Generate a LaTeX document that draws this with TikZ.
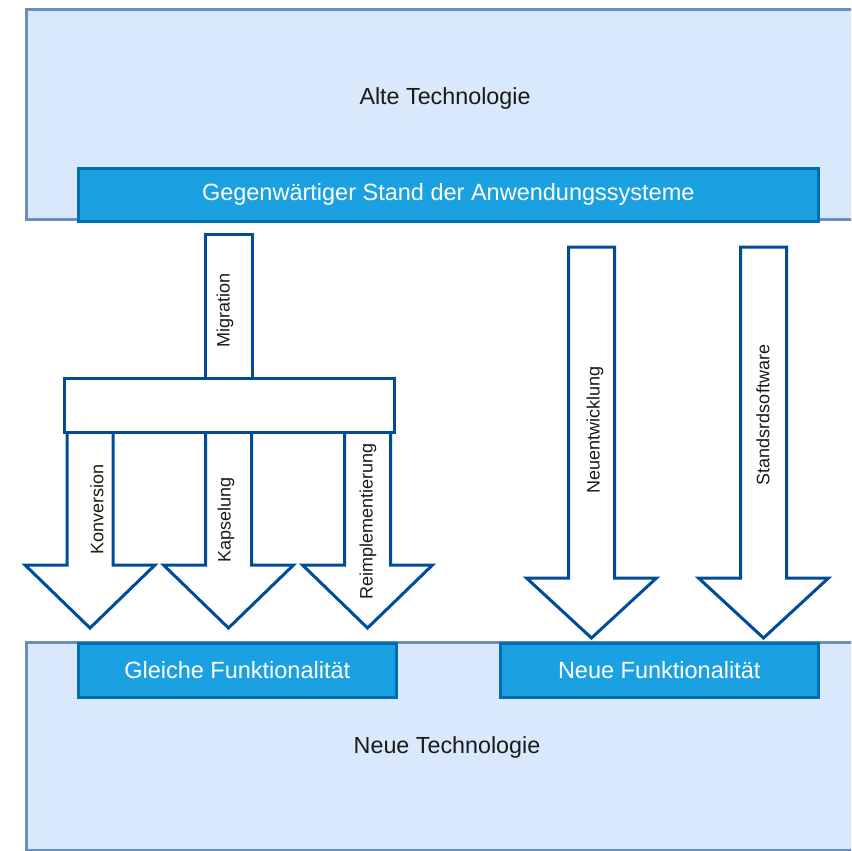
\documentclass[tikz,border=0pt]{standalone}
\usepackage{fontspec}
\setmainfont{Liberation Sans}
\definecolor{techfill}{HTML}{DAE8FC}
\definecolor{techdraw}{HTML}{6C8EBF}
\definecolor{barfill}{HTML}{1BA1E2}
\definecolor{bardraw}{HTML}{006EAF}
\definecolor{arrdraw}{HTML}{004C99}
\definecolor{txtdark}{HTML}{1A1A1A}
\tikzset{
  techbox/.style={draw=techdraw, fill=techfill, line width=3pt, anchor=north west, inner sep=0pt},
  barbox/.style={draw=bardraw, fill=barfill, line width=3.5pt, anchor=north west, inner sep=0pt},
  bartext/.style={text=white, font=\fontsize{23.5}{28}\selectfont},
  bigtext/.style={text=txtdark, font=\fontsize{23.3}{28}\selectfont},
  arrowsty/.style={draw=arrdraw, fill=white, line width=3pt, line join=miter},
  vlabel/.style={rotate=90, text=txtdark, font=\fontsize{18}{22}\selectfont, inner sep=0pt}
}
% down block arrow: #1 centre x, #2 top y, #3 head start y, #4 tip y
\newcommand{\blkarrow}[4]{%
  \draw[arrowsty] (#1-23,#2) -- (#1-23,#3) -- (#1-65,#3) -- (#1,#4) -- (#1+65,#3) -- (#1+23,#3) -- (#1+23,#2) -- cycle;}
\begin{document}
\begin{tikzpicture}[x=1pt,y=-1pt]
\useasboundingbox (0,0) rectangle (851,851);
\clip (0,0) rectangle (851,851);
% top region
\node[techbox, minimum width=860pt, minimum height=210pt] (alt) at (24.5,8) {};
\node[bigtext] (altlabel) at (445,98) {Alte Technologie};
\node[barbox, minimum width=740pt, minimum height=53pt] (stand) at (76.5,166.5) {};
\node[bartext] at (stand.center) {Gegenwärtiger Stand der Anwendungssysteme};
% bottom region
\node[techbox, minimum width=860pt, minimum height=208pt] (neu) at (24.5,641) {};
\node[bigtext] (neulabel) at (447,747) {Neue Technologie};
\node[barbox, minimum width=318pt, minimum height=54pt] (gleich) at (76.5,641.5) {};
\node[bartext] at (gleich.center) {Gleiche Funktionalität};
\node[barbox, minimum width=318pt, minimum height=54pt] (neufkt) at (498.5,641.5) {};
\node[bartext] at (neufkt.center) {Neue Funktionalität};
% migration shaft
\draw[arrowsty] (205,234) rectangle (252,380);
% lower arrows
\blkarrow{90}{428}{565}{628}
\blkarrow{228.5}{428}{565}{628}
\blkarrow{367.5}{428}{565}{628}
% T bar
\node[draw=arrdraw, fill=white, line width=3pt, anchor=north west, minimum width=330pt, minimum height=54pt, inner sep=0pt] (tbar) at (63,377) {};
% right arrows
\blkarrow{591.5}{247}{578}{638}
\blkarrow{763.5}{247}{578}{638}
% labels
\node[vlabel] (mig) at (225,310) {Migration};
\node[vlabel] (konv) at (97,509) {Konversion};
\node[vlabel] (kaps) at (226,520) {Kapselung};
\node[vlabel] (reimp) at (368,521) {Reimplementierung};
\node[vlabel] (neuent) at (595,430) {Neuentwicklung};
\node[vlabel] (stdsw) at (763,415) {Standsrdsoftware};
\end{tikzpicture}
\end{document}
